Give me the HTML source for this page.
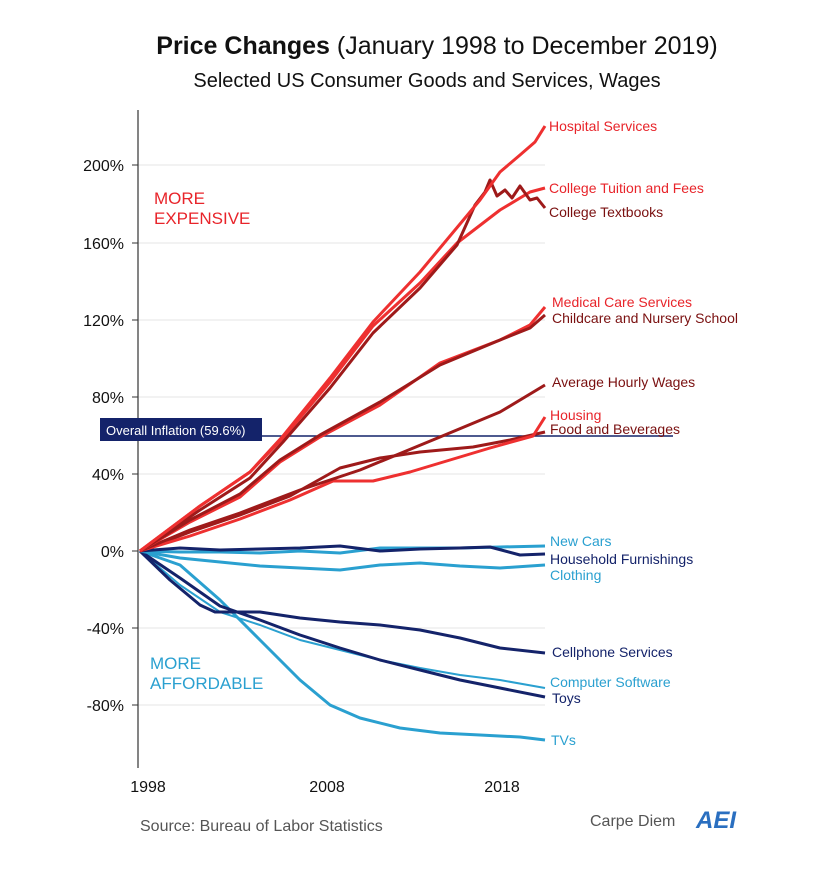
<!DOCTYPE html>
<html><head><style>
body{margin:0;background:#fff;}
svg text{font-family:"Liberation Sans",sans-serif;}
</style></head><body>
<svg width="828" height="870" viewBox="0 0 828 870" xmlns="http://www.w3.org/2000/svg">
<rect width="828" height="870" fill="#fff"/>
<text x="437" y="54" text-anchor="middle" font-size="25" fill="#111"><tspan font-weight="bold">Price Changes</tspan> (January 1998 to December 2019)</text>
<text x="427" y="87" text-anchor="middle" font-size="20" fill="#111">Selected US Consumer Goods and Services, Wages</text>
<g stroke="#e6e6e6" stroke-width="1"><line x1="138" y1="165" x2="545" y2="165"/><line x1="138" y1="243" x2="545" y2="243"/><line x1="138" y1="320" x2="545" y2="320"/><line x1="138" y1="397" x2="545" y2="397"/><line x1="138" y1="474" x2="545" y2="474"/><line x1="138" y1="628" x2="545" y2="628"/><line x1="138" y1="705" x2="545" y2="705"/></g>
<line x1="138" y1="110" x2="138" y2="768" stroke="#333" stroke-width="1.2"/>
<g font-size="16" fill="#111" text-anchor="end">
<text x="124" y="171">200%</text><text x="124" y="249">160%</text><text x="124" y="326">120%</text>
<text x="124" y="403">80%</text><text x="124" y="480">40%</text><text x="124" y="557">0%</text>
<text x="124" y="634">-40%</text><text x="124" y="711">-80%</text>
</g>
<g stroke="#333"><line x1="132" y1="165" x2="138" y2="165"/><line x1="132" y1="243" x2="138" y2="243"/><line x1="132" y1="320" x2="138" y2="320"/><line x1="132" y1="397" x2="138" y2="397"/><line x1="132" y1="474" x2="138" y2="474"/><line x1="132" y1="551" x2="138" y2="551"/><line x1="132" y1="628" x2="138" y2="628"/><line x1="132" y1="705" x2="138" y2="705"/></g>
<g font-size="16" fill="#111" text-anchor="middle"><text x="148" y="792">1998</text><text x="327" y="792">2008</text><text x="502" y="792">2018</text></g>
<text x="154" y="204" font-size="17" fill="#e8242a">MORE</text>
<text x="154" y="224" font-size="17" fill="#e8242a">EXPENSIVE</text>
<text x="150" y="669" font-size="17" fill="#2aa0d0">MORE</text>
<text x="150" y="689" font-size="17" fill="#2aa0d0">AFFORDABLE</text>
<line x1="100" y1="436" x2="673" y2="436" stroke="#14236a" stroke-width="1.5"/>
<rect x="100" y="418" width="162" height="23" fill="#14236a"/>
<text x="106" y="435" font-size="13" fill="#fff">Overall Inflation (59.6%)</text>
<g fill="none" stroke-width="3" stroke-linejoin="round">
<polyline stroke="#2aa0d0" points="140,551 180,565 220,600 260,640 300,680 330,705 360,718 400,728 440,733 480,735 520,737 545,740"/>
<polyline stroke="#2aa0d0" stroke-width="2" points="140,551 180,585 220,612 260,625 300,640 340,650 380,660 420,668 460,675 500,680 545,688"/>
<polyline stroke="#14236a" points="140,551 180,578 220,606 260,620 300,635 340,648 380,660 420,670 460,680 500,688 545,697"/>
<polyline stroke="#14236a" points="140,551 170,580 200,605 215,612 260,612 300,618 340,622 380,625 420,630 460,638 500,648 545,653"/>
<polyline stroke="#2aa0d0" points="140,551 180,558 220,562 260,566 300,568 340,570 380,565 420,563 460,566 500,568 545,565"/>
<polyline stroke="#2aa0d0" points="140,551 180,552 220,552 260,553 300,551 340,553 380,548 420,548 460,548 500,547 545,546"/>
<polyline stroke="#14236a" points="140,551 180,548 220,550 260,549 300,548 340,546 380,551 420,549 460,548 490,547 520,555 545,554"/>
<!-- reds -->
<polyline stroke="#9e1a1a" points="140,551 190,532 240,515 290,496 340,468 380,458 420,452 473,447 510,440 545,432"/>
<polyline stroke="#ee3030" points="140,551 190,536 240,519 290,500 333,481 373,481 410,472 450,460 490,448 533,436 545,417"/>
<polyline stroke="#9e1a1a" points="140,551 190,530 240,513 300,490 360,470 440,437 500,412 545,385"/>
<polyline stroke="#ee3030" points="140,551 190,522 240,497 280,462 320,437 380,405 440,363 500,340 530,325 545,307"/>
<polyline stroke="#9e1a1a" points="140,551 190,520 240,494 280,460 320,435 380,402 440,365 500,340 530,328 545,315"/>
<polyline stroke="#ee3030" points="140,551 200,506 250,472 283,438 330,382 373,326 420,283 457,243 500,210 530,192 545,188"/>
<polyline stroke="#9e1a1a" points="140,551 200,510 250,478 283,442 330,388 373,333 420,288 457,245 475,205 485,192 490,180 497,196 505,190 512,198 520,186 530,200 537,198 545,208"/>
<polyline stroke="#ee3030" points="140,551 200,506 250,472 283,436 330,378 373,322 420,272 460,224 480,200 500,172 520,155 535,142 545,126"/>
</g>
<g font-size="14">
<text x="549" y="131" fill="#e8242a">Hospital Services</text>
<text x="549" y="193" fill="#e8242a">College Tuition and Fees</text>
<text x="549" y="217" fill="#7a1010">College Textbooks</text>
<text x="552" y="307" fill="#e8242a">Medical Care Services</text>
<text x="552" y="323" fill="#7a1010">Childcare and Nursery School</text>
<text x="552" y="387" fill="#7a1010">Average Hourly Wages</text>
<text x="550" y="420" fill="#e8242a">Housing</text>
<text x="550" y="434" fill="#7a1010">Food and Beverages</text>
<text x="550" y="546" fill="#2aa0d0">New Cars</text>
<text x="550" y="564" fill="#14236a">Household Furnishings</text>
<text x="550" y="580" fill="#2aa0d0">Clothing</text>
<text x="552" y="657" fill="#14236a">Cellphone Services</text>
<text x="550" y="687" fill="#2aa0d0">Computer Software</text>
<text x="552" y="703" fill="#14236a">Toys</text>
<text x="551" y="745" fill="#2aa0d0">TVs</text>
</g>
<text x="140" y="831" font-size="16" fill="#555">Source: Bureau of Labor Statistics</text>
<text x="590" y="826" font-size="16" fill="#555">Carpe Diem</text>
<text x="696" y="828" font-size="24" font-weight="bold" font-style="italic" fill="#2a6fc0">AEI</text>
</svg>
</body></html>
